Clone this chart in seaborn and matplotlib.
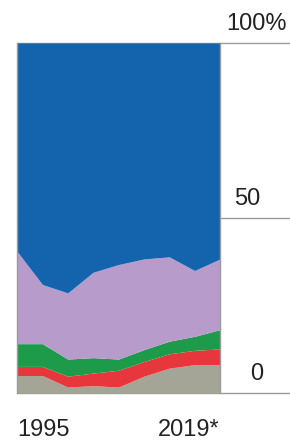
import matplotlib
matplotlib.use('Agg')
import matplotlib.pyplot as plt
import matplotlib.transforms as mtransforms
import seaborn as sns
import numpy as np

# values (shares in %, stacked bottom -> top)
years = [1995, 1998, 2001, 2004, 2007, 2010, 2013, 2016, 2019]
gray = [5.0, 5.0, 1.7, 2.1, 1.7, 4.8, 7.1, 8.1, 8.1]
red = [2.6, 2.6, 3.1, 3.6, 4.8, 4.2, 4.1, 4.1, 4.5]
green = [6.5, 6.5, 4.9, 4.4, 3.2, 3.4, 3.6, 4.0, 5.5]
purple = [26.4, 16.9, 18.9, 24.4, 27.0, 25.9, 24.1, 18.8, 20.2]
blue = [100 - g - r - gr - p for g, r, gr, p in zip(gray, red, green, purple)]
layer_colors = ['#a4a596', '#e8373c', '#1e9a4b', '#b79bcb', '#1464ad']

ytick_vals = [0, 50, 100]
ytick_labels = ['0', '50', '100%']
xtick_vals = [1995, 2019]
xtick_labels = ['1995', '2019*']

sns.set_style('white')
plt.rcParams['font.family'] = ['Liberation Sans', 'DejaVu Sans']

fig = plt.figure(figsize=(2.9, 4.41), dpi=100)
ax = fig.add_axes([17/290, 48/441, 203/290, 350/441])

ax.stackplot(years, gray, red, green, purple, blue, colors=layer_colors,
             linewidth=0, zorder=2)
ax.set_xlim(years[0], years[-1])
ax.set_ylim(0, 100)

# grid lines run out to the right of the plot
for v in ytick_vals:
    ax.axhline(v, xmin=0, xmax=273/203, color='#9a9a9a', lw=1.0,
               clip_on=False, zorder=1)

for s in ['top', 'bottom']:
    ax.spines[s].set_visible(False)
for s in ['left', 'right']:
    ax.spines[s].set_color('#9a9a9a')
    ax.spines[s].set_linewidth(1.0)
    ax.spines[s].set_zorder(3)

ax.set_yticks([])
ax.set_xticks([])

# y labels to the right, sitting above their lines
trans = mtransforms.blended_transform_factory(fig.transFigure, ax.transData)
label_x = [257, 247, 256]
for v, lab, lx in zip(ytick_vals, ytick_labels, label_x):
    ax.text(lx/290, v + 5.3, lab, transform=trans, ha='center', va='center',
            fontsize=17, color='#222222')

# x labels under the ends
tx = mtransforms.blended_transform_factory(ax.transData, fig.transFigure)
ax.text(xtick_vals[0], 11/441, xtick_labels[0], transform=tx, ha='left',
        va='center', fontsize=17, color='#222222')
ax.text(xtick_vals[1], 11/441, xtick_labels[1], transform=tx, ha='right',
        va='center', fontsize=17, color='#222222')

fig.savefig('out.png', dpi=100)
